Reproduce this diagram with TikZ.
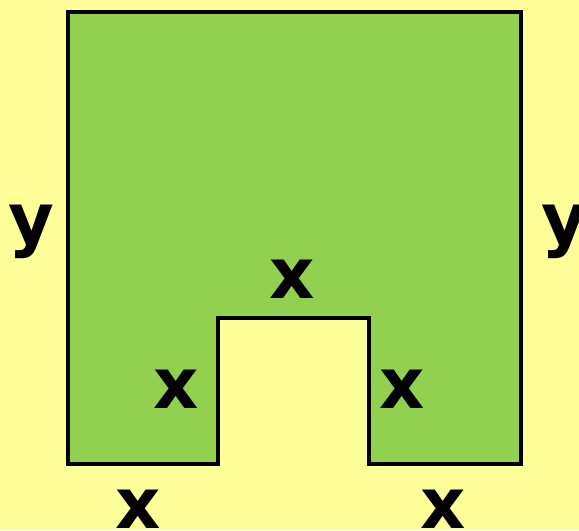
\documentclass[tikz,border=0pt]{standalone}
\usepackage{fontspec}
\setmainfont{DejaVu Sans}
\definecolor{bgyellow}{HTML}{FFFF99}
\definecolor{shapegreen}{HTML}{92D050}
\tikzset{
    MyPixels/.style={x={(0.01cm,0cm)},y={(0cm,-0.01cm)}},
    MyLabel/.style={anchor=base,inner sep=0pt,font=\fontsize{20}{24}\selectfont\bfseries}    }

\begin{document}
\begin{tikzpicture}[MyPixels]
    \def\lw{0.047cm}% outline width
    \def\notchl{218}% left side of the notch
    \def\notchr{369}% right side of the notch
    \def\notcht{318}% top of the notch

    \fill[bgyellow] (0,0) rectangle (579,530);
    \useasboundingbox (0,0) rectangle (579,530);

    \filldraw[fill=shapegreen,draw=black,line width=\lw,miter limit=10]
     (68,464) -- (68,12) -- (521,12) -- (521,464) % outer box
        -- (\notchr,464) -- (\notchr,\notcht) -- (\notchl,\notcht) -- (\notchl,464) -- cycle;

    \node[MyLabel] (yleft) at (31,243) {y};
    \node[MyLabel] (yright) at (564,243) {y};
    \node[MyLabel] (xtop) at (292,298) {x};
    \node[MyLabel] (xinleft) at (176,408) {x};
    \node[MyLabel] (xinright) at (402,408) {x};
    \node[MyLabel] (xbotleft) at (138,528) {x};
    \node[MyLabel] (xbotright) at (443,528) {x};
\end{tikzpicture}
\end{document}
